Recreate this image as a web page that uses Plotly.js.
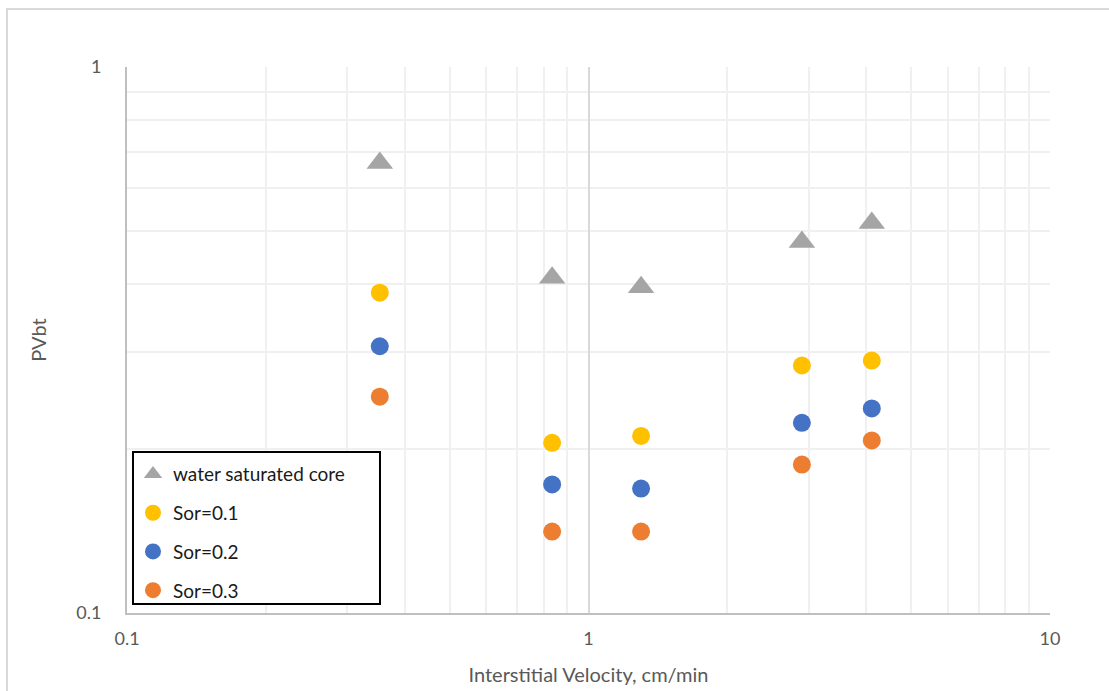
<!DOCTYPE html>
<html>
<head>
<meta charset="utf-8">
<script src="https://cdn.plot.ly/plotly-3.0.1.min.js"></script>
<style>
  html, body { margin: 0; padding: 0; background: #ffffff; }
  #chart { width: 1109px; height: 691px; }
</style>
</head>
<body>
<div id="chart"></div>
<script>
// Interstitial velocity (cm/min) for each flood
const velocity = [0.353, 0.834, 1.30, 2.90, 4.11];

// Pore volumes at breakthrough
const waterSaturated = [0.667, 0.411, 0.395, 0.478, 0.518];
const sor01 = [0.386, 0.205, 0.211, 0.284, 0.290];
const sor02 = [0.308, 0.172, 0.169, 0.223, 0.237];
const sor03 = [0.249, 0.141, 0.141, 0.187, 0.207];

const seriesNames = ["water saturated core", "Sor=0.1", "Sor=0.2", "Sor=0.3"];

// Axis tick labels
const xTickVals = [0.1, 1, 10];
const xTickText = ["0.1", "1", "10"];
const yTickVals = [0.1, 1];
const yTickText = ["0.1", "1"];
const xMinorVals = [0.2, 0.3, 0.4, 0.5, 0.6, 0.7, 0.8, 0.9, 2, 3, 4, 5, 6, 7, 8, 9];
const yMinorVals = [0.2, 0.3, 0.4, 0.5, 0.6, 0.7, 0.8, 0.9];

const FONT = "Lato, 'Open Sans', 'DejaVu Sans', sans-serif";

function series(y, name, color, symbol, size, idx) {
  return {
    type: "scatter",
    mode: "markers",
    x: velocity,
    y: y,
    name: name,
    legendgroup: "g" + idx,
    marker: { color: color, symbol: symbol, size: size, line: { width: 0 } }
  };
}

const traces = [
  series(waterSaturated, seriesNames[0], "#A5A5A5", "triangle-up", 23, 0),
  series(sor01, seriesNames[1], "#FFC000", "circle", 18, 1),
  series(sor02, seriesNames[2], "#4472C4", "circle", 18, 2),
  series(sor03, seriesNames[3], "#ED7D31", "circle", 18, 3)
];

const layout = {
  width: 1109,
  height: 691,
  margin: { l: 127, r: 59, t: 67, b: 78, pad: 0 },
  paper_bgcolor: "#ffffff",
  plot_bgcolor: "#ffffff",
  font: { family: FONT, color: "#595959", size: 18 },
  showlegend: true,
  legend: {
    x: 0.0065, y: 0.289, xanchor: "left", yanchor: "top",
    bgcolor: "rgba(0,0,0,0)",
    borderwidth: 0,
    font: { family: FONT, size: 19, color: "#1a1a1a" },
    traceorder: "grouped",
    tracegroupgap: 11,
    itemsizing: "trace"
  },
  xaxis: {
    type: "log",
    range: [-1, 1],
    tickvals: xTickVals,
    ticktext: xTickText,
    ticks: "",
    ticklabelstandoff: 8,
    showgrid: true,
    gridcolor: "#d9d9d9",
    gridwidth: 2,
    minor: { tickvals: xMinorVals, showgrid: true, gridcolor: "#f0f0f0", gridwidth: 2, ticks: "" },
    showline: true,
    linecolor: "#bfbfbf",
    linewidth: 2,
    mirror: false,
    zeroline: false,
    tickfont: { family: FONT, size: 18, color: "#595959" },
    title: { text: "Interstitial Velocity, cm/min", font: { family: FONT, size: 20, color: "#595959" }, standoff: 20 }
  },
  yaxis: {
    type: "log",
    range: [-1, 0],
    tickvals: yTickVals,
    ticktext: yTickText,
    ticks: "",
    ticklabelstandoff: 20,
    showgrid: true,
    gridcolor: "#d9d9d9",
    gridwidth: 2,
    minor: { tickvals: yMinorVals, showgrid: true, gridcolor: "#f0f0f0", gridwidth: 2, ticks: "" },
    showline: true,
    linecolor: "#bfbfbf",
    linewidth: 2,
    zeroline: false,
    tickfont: { family: FONT, size: 18, color: "#595959" },
    title: { text: "PVbt", font: { family: FONT, size: 20, color: "#595959" }, standoff: 24 }
  },
  shapes: [
    // chart area frame (left and top edges fall inside the page)
    {
      type: "rect", xref: "paper", yref: "paper",
      x0: -0.130, x1: 1.08, y0: -0.17, y1: 1.106,
      line: { color: "#d9d9d9", width: 2 },
      fillcolor: "rgba(0,0,0,0)",
      layer: "below"
    },
    // legend box
    {
      type: "rect", xref: "paper", yref: "paper",
      x0: 0.0065, x1: 0.2741, y0: 0.0165, y1: 0.2949,
      line: { color: "#000000", width: 2 },
      fillcolor: "#ffffff",
      layer: "above"
    }
  ]
};

Plotly.newPlot("chart", traces, layout, { displayModeBar: false, staticPlot: true });
</script>
</body>
</html>
